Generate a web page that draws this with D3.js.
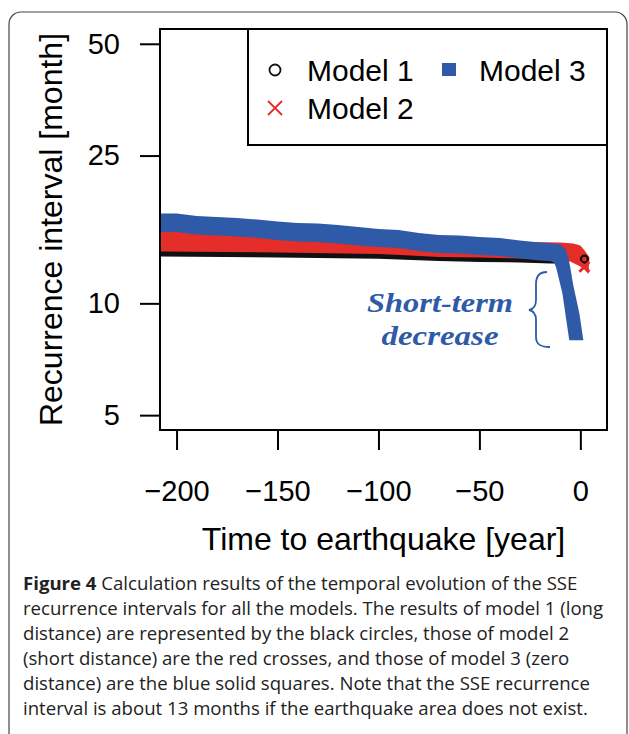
<!DOCTYPE html>
<html>
<head>
<meta charset="utf-8">
<script src="https://cdn.jsdelivr.net/npm/d3@7"></script>
<style>
    html, body { margin: 0; padding: 0; background: #fff; }
    svg { display: block; }
</style>
</head>
<body>
<div id="chart"></div>
<script>
// Model 3 (zero distance, blue squares): outer edge of the band, then inner edge
var model3OuterYears = [-208, -200, -190, -180, -170, -160, -150, -140, -130, -120, -110, -100, -90, -80, -70, -60, -50, -40, -30, -20, -15, -10, -7.5, -6, -5, -3.5, -0.5, 1.5];
var model3OuterValues = [17.46, 17.46, 17.19, 17.08, 16.98, 16.82, 16.62, 16.46, 16.41, 16.26, 16.06, 15.86, 15.76, 15.47, 15.28, 15.23, 15.09, 15.00, 14.77, 14.59, 14.54, 14.41, 14.06, 13.30, 12.50, 11.18, 9.40, 7.95];
var model3InnerYears = [-208, -200, -190, -180, -170, -160, -150, -140, -130, -120, -110, -100, -90, -80, -70, -60, -50, -40, -30, -20, -15, -13, -12, -8.9, -5.5];
var model3InnerValues = [15.57, 15.57, 15.33, 15.23, 15.14, 15.00, 14.81, 14.68, 14.63, 14.50, 14.32, 14.19, 14.10, 13.84, 13.67, 13.63, 13.50, 13.42, 13.21, 13.05, 13.01, 12.89, 12.49, 10.64, 7.95];

// Model 2 (short distance, red crosses)
var model2UpperYears = [-208, -150, -100, -70, -50, -30, -25, -10, -3.5, 0, 2, 4.5, 4];
var model2UpperValues = [15.81, 15.05, 14.41, 13.88, 13.71, 14.60, 14.63, 14.59, 14.50, 14.32, 13.90, 13.30, 12.00];
var model2LowerYears = [-208, -150, -100, -70, -50, -30, -15, -10, -5, -1, 1.5];
var model2LowerValues = [13.80, 13.71, 13.59, 13.34, 13.29, 13.21, 13.13, 13.09, 12.97, 12.65, 12.42];

// Model 1 (long distance, black circles)
var model1Years = [-208, -150, -100, -70, -50, -30, -15, -8];
var model1Upper = [13.97, 13.88, 13.76, 13.50, 13.46, 13.38, 13.29, 13.26];
var model1Lower = [13.38, 13.29, 13.19, 13.01, 12.93, 12.89, 12.81, 12.81];

// last points right at the earthquake
var endYears = [2];
var model1EndValues = [13.15];
var model2EndValues = [12.55];

var xTicks = [-200, -150, -100, -50, 0];
var yTicks = [5, 10, 25, 50];
var legendLabels = ['Model 1', 'Model 2', 'Model 3'];
var legendShapes = ['circle', 'cross', 'square'];

var captionLines = [
    'Calculation results of the temporal evolution of the SSE',
    'recurrence intervals for all the models. The results of model 1 (long',
    'distance) are represented by the black circles, those of model 2',
    '(short distance) are the red crosses, and those of model 3 (zero',
    'distance) are the blue solid squares. Note that the SSE recurrence',
    'interval is about 13 months if the earthquake area does not exist.'
];

(function (d3) {
    'use strict';

    var W = 629, H = 734;
    var BLUE = '#2f5aa8', RED = '#e52d2a', BLACK = '#111';
    var sans = '"Liberation Sans", Arial, Helvetica, sans-serif';

    var box = { left: 160, right: 607, top: 29, bottom: 430 };

    var svg = d3.select('#chart').append('svg')
        .attr('width', W)
        .attr('height', H);

    // outer rounded frame of the figure
    svg.append('rect')
        .attr('x', 9).attr('y', 12)
        .attr('width', 618).attr('height', 740)
        .attr('rx', 12).attr('ry', 12)
        .attr('fill', 'none')
        .attr('stroke', '#444')
        .attr('stroke-width', 1.2);

    var x = d3.scaleLinear().domain([-208.2, 13.2]).range([box.left, box.right]);
    var y = d3.scaleLog().domain([4.56, 54.8]).range([box.bottom, box.top]);

    svg.append('clipPath').attr('id', 'plotclip')
        .append('rect')
        .attr('x', box.left).attr('y', box.top)
        .attr('width', box.right - box.left).attr('height', box.bottom - box.top);

    var plot = svg.append('g').attr('clip-path', 'url(#plotclip)');

    /**
     * zip years/values into points
     */
    function pts(years, values) {
        return years.map(function (t, i) { return { t: t, v: values[i] }; });
    }

    /**
     * closed polygon: one edge forward, other edge backwards
     */
    function band(upper, lower) {
        var ring = upper.concat(lower.slice().reverse());
        return d3.line()
            .x(function (d) { return x(d.t); })
            .y(function (d) { return y(d.v); })(ring) + 'Z';
    }

    // Model 1 band
    plot.append('path')
        .attr('d', band(pts(model1Years, model1Upper), pts(model1Years, model1Lower)))
        .attr('fill', BLACK);

    // Model 2 band
    plot.append('path')
        .attr('d', band(pts(model2UpperYears, model2UpperValues), pts(model2LowerYears, model2LowerValues)))
        .attr('fill', RED);

    // Model 3 band
    plot.append('path')
        .attr('d', band(pts(model3OuterYears, model3OuterValues), pts(model3InnerYears, model3InnerValues)))
        .attr('fill', BLUE);

    // last markers of model 1 and 2
    plot.selectAll('circle.end1')
        .data(pts(endYears, model1EndValues))
        .enter().append('circle')
        .attr('class', 'end1')
        .attr('cx', function (d) { return x(d.t); })
        .attr('cy', function (d) { return y(d.v); })
        .attr('r', 3.5)
        .attr('fill', 'none')
        .attr('stroke', BLACK)
        .attr('stroke-width', 2.2);

    plot.selectAll('path.end2')
        .data(pts(endYears, model2EndValues))
        .enter().append('path')
        .attr('class', 'end2')
        .attr('d', function (d) {
            var cx = x(d.t), cy = y(d.v), s = 5;
            return 'M' + (cx - s) + ',' + (cy - s) + 'L' + (cx + s) + ',' + (cy + s) +
                'M' + (cx - s) + ',' + (cy + s) + 'L' + (cx + s) + ',' + (cy - s);
        })
        .attr('stroke', RED)
        .attr('stroke-width', 3);

    // plot box
    svg.append('rect')
        .attr('x', box.left).attr('y', box.top)
        .attr('width', box.right - box.left).attr('height', box.bottom - box.top)
        .attr('fill', 'none')
        .attr('stroke', '#000')
        .attr('stroke-width', 2);

    // axes
    var xAxis = svg.append('g')
        .attr('transform', 'translate(0,' + box.bottom + ')')
        .call(d3.axisBottom(x).tickValues(xTicks).tickSize(20).tickPadding(30)
            .tickFormat(function (d) { return d < 0 ? '\u2212' + Math.abs(d) : String(d); }));

    var yAxis = svg.append('g')
        .attr('transform', 'translate(' + box.left + ',0)')
        .call(d3.axisLeft(y).tickValues(yTicks).tickSize(20).tickPadding(20)
            .tickFormat(d3.format('d')));

    [xAxis, yAxis].forEach(function (a) {
        a.select('.domain').remove();
        a.selectAll('line').attr('stroke', '#000').attr('stroke-width', 2);
        a.selectAll('text')
            .attr('fill', '#000')
            .style('font-family', sans)
            .style('font-size', '29px');
    });

    // axis titles
    svg.append('text')
        .attr('x', (box.left + box.right) / 2)
        .attr('y', 550)
        .attr('text-anchor', 'middle')
        .style('font-family', sans)
        .style('font-size', '32px')
        .text('Time to earthquake [year]');

    svg.append('text')
        .attr('transform', 'translate(62,' + ((box.top + box.bottom) / 2) + ') rotate(-90)')
        .attr('text-anchor', 'middle')
        .style('font-family', sans)
        .style('font-size', '32px')
        .text('Recurrence interval [month]');

    // legend
    var legend = svg.append('g');
    legend.append('rect')
        .attr('x', 248).attr('y', box.top)
        .attr('width', box.right - 248).attr('height', 145 - box.top)
        .attr('fill', '#fff')
        .attr('stroke', '#000')
        .attr('stroke-width', 2);

    var legendColors = [BLACK, RED, BLUE];
    var colX = [275, 449], rowY = [70, 108];

    legendLabels.forEach(function (label, i) {
        var col = i < 2 ? 0 : 1,
            row = i < 2 ? i : 0,
            sx = colX[col], sy = rowY[row];

        if (legendShapes[i] === 'circle') {
            legend.append('circle')
                .attr('cx', sx).attr('cy', sy).attr('r', 5.5)
                .attr('fill', 'none').attr('stroke', legendColors[i]).attr('stroke-width', 1.8);
        } else if (legendShapes[i] === 'cross') {
            legend.append('path')
                .attr('d', 'M' + (sx - 7) + ',' + (sy - 7) + 'L' + (sx + 7) + ',' + (sy + 7) +
                    'M' + (sx - 7) + ',' + (sy + 7) + 'L' + (sx + 7) + ',' + (sy - 7))
                .attr('stroke', legendColors[i]).attr('stroke-width', 1.8);
        } else {
            legend.append('rect')
                .attr('x', sx - 7).attr('y', sy - 7).attr('width', 14).attr('height', 13)
                .attr('fill', legendColors[i]);
        }

        legend.append('text')
            .attr('x', sx + 32 - col * 2)
            .attr('y', sy)
            .attr('dy', '0.35em')
            .style('font-family', sans)
            .style('font-size', '30px')
            .text(label);
    });

    // annotation of the short-term decrease
    var note = svg.append('g')
        .attr('fill', BLUE)
        .attr('text-anchor', 'middle')
        .style('font-family', '"Liberation Serif", "Times New Roman", serif')
        .style('font-weight', 'bold')
        .style('font-style', 'italic')
        .style('font-size', '28px');
    note.append('text').attr('x', 440).attr('y', 312)
        .attr('textLength', 146).attr('lengthAdjust', 'spacingAndGlyphs')
        .text('Short-term');
    note.append('text').attr('x', 440).attr('y', 345)
        .attr('textLength', 117).attr('lengthAdjust', 'spacingAndGlyphs')
        .text('decrease');

    svg.append('path')
        .attr('d', 'M547,272 C539,272 536,276 536,284 L536,300 C536,306 534,309 529,310' +
            ' C534,311 536,314 536,320 L536,337 C536,344 540,347 550,347')
        .attr('fill', 'none')
        .attr('stroke', BLUE)
        .attr('stroke-width', 1.8);

    // caption
    var cap = svg.append('g')
        .style('font-family', '"Open Sans", "Noto Sans", sans-serif')
        .style('font-size', '18.6px')
        .attr('fill', '#222');

    captionLines.forEach(function (line, i) {
        var t = cap.append('text')
            .attr('x', 23)
            .attr('y', 590 + i * 25);
        if (i === 0) {
            t.append('tspan').style('font-weight', 'bold').text('Figure 4');
            t.append('tspan').text(' ' + line);
        } else {
            t.text(line);
        }
    });

})(d3);
</script>
</body>
</html>
